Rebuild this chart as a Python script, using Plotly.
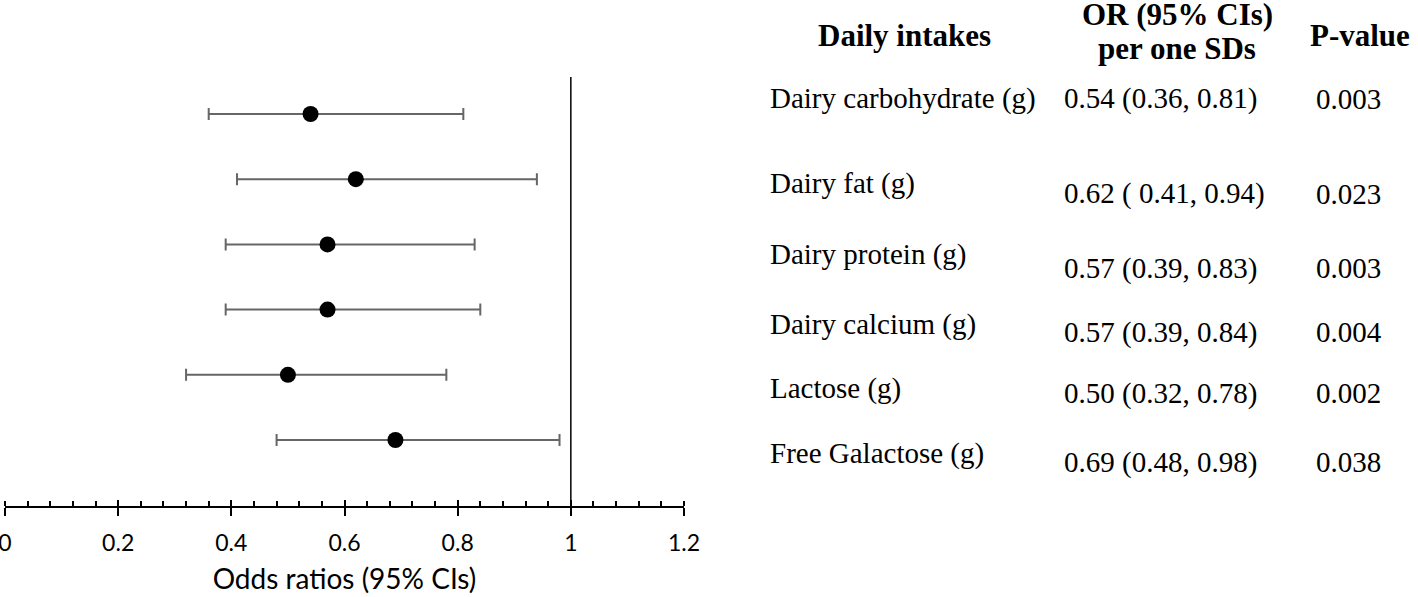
import plotly.graph_objects as go

# ---------------- data ----------------
intakes = ["Dairy carbohydrate (g)", "Dairy fat (g)", "Dairy protein (g)",
           "Dairy calcium (g)", "Lactose (g)", "Free Galactose (g)"]
odds = [0.54, 0.62, 0.57, 0.57, 0.50, 0.69]
ci_low = [0.36, 0.41, 0.39, 0.39, 0.32, 0.48]
ci_high = [0.81, 0.94, 0.83, 0.84, 0.78, 0.98]
or_text = ["0.54 (0.36, 0.81)", "0.62 ( 0.41, 0.94)", "0.57 (0.39, 0.83)",
           "0.57 (0.39, 0.84)", "0.50 (0.32, 0.78)", "0.69 (0.48, 0.98)"]
p_values = ["0.003", "0.023", "0.003", "0.004", "0.002", "0.038"]
header_lines = ["Daily intakes", "OR (95% CIs)", "per one SDs", "P-value"]
tick_vals = [0, 0.2, 0.4, 0.6, 0.8, 1.0, 1.2]
tick_text = ["0", "0.2", "0.4", "0.6", "0.8", "1", "1.2"]
ref_value = 1.0

# ---------------- layout constants (pixels) ----------------
W, H = 1418, 597
rows = list(range(len(intakes)))
row_px0, row_step = 114, 65.2
axis_px = 506
y_top = -row_px0 / row_step
y_bot = (axis_px - row_px0) / row_step
ref_top = (77 - row_px0) / row_step

def px(x):
    return x / W

def py(y):
    return 1 - y / H

fig = go.Figure()
fig.add_trace(go.Scatter(
    x=odds, y=rows, mode="markers",
    marker=dict(size=16, color="black"),
    error_x=dict(type="data", symmetric=False,
                 array=[h - o for h, o in zip(ci_high, odds)],
                 arrayminus=[o - l for o, l in zip(odds, ci_low)],
                 color="#666666", thickness=2, width=6),
    showlegend=False, hoverinfo="x",
))
# invisible trace on x2 so the overlay axis (upper half of major ticks) is drawn
fig.add_trace(go.Scatter(x=[ref_value], y=[y_bot], xaxis="x2", mode="markers",
                         marker=dict(opacity=0), showlegend=False, hoverinfo="skip"))

fig.add_shape(type="line", xref="x", yref="y", x0=ref_value, x1=ref_value,
              y0=ref_top, y1=y_bot, line=dict(color="black", width=1.5))

axis_font = dict(family="Lato", size=23, color="black")
dom = [px(5), px(684)]
fig.update_layout(
    width=W, height=H,
    margin=dict(l=0, r=0, t=0, b=0),
    paper_bgcolor="white", plot_bgcolor="white",
    xaxis=dict(domain=dom, range=[0, 1.2], tickvals=tick_vals, ticktext=tick_text,
               ticks="outside", ticklen=8, tickwidth=2, tickcolor="black",
               showline=True, linecolor="black", linewidth=2,
               showgrid=False, zeroline=False, tickfont=axis_font,
               ticklabeloverflow="allow", automargin=False, ticklabelstandoff=7,
               minor=dict(ticks="inside", ticklen=5, tickwidth=1.5, tickcolor="black",
                          dtick=0.04, showgrid=False),
               title=dict(text="Odds ratios (95% CIs)",
                          font=dict(family="Lato", size=28, color="black"),
                          standoff=15),
               anchor="y", fixedrange=True),
    xaxis2=dict(domain=dom, range=[0, 1.2], tickvals=tick_vals, overlaying="x",
                side="bottom", anchor="y", ticks="inside", ticklen=6, tickwidth=2,
                tickcolor="black", showticklabels=False, showgrid=False,
                zeroline=False, showline=False, automargin=False),
    yaxis=dict(domain=[1 - axis_px / H, 1], range=[y_bot, y_top], visible=False,
               fixedrange=True, automargin=False),
)

serif = "Liberation Serif"
body_size = 29
ann = []
# header lines: (x, y, anchor)
hdr_pos = [(904, 35, "center"), (1177, 15, "center"), (1177, 48, "center"), (1308, 35, "left")]
for t, (x, y, a) in zip(header_lines, hdr_pos):
    ann.append(dict(text="<b>" + t + "</b>",
                    x=px(x), y=py(y), xref="paper", yref="paper",
                    xanchor=a, yanchor="middle", showarrow=False,
                    font=dict(family=serif, size=31, color="black")))
label_y = [99, 183, 255, 324, 388, 453]
value_y = [99, 194, 268, 332, 393, 462]
for i in rows:
    ann.append(dict(text=intakes[i], x=px(768), y=py(label_y[i]), xref="paper", yref="paper",
                    xanchor="left", yanchor="middle", showarrow=False,
                    font=dict(family=serif, size=body_size, color="black")))
    ann.append(dict(text=or_text[i], x=px(1062), y=py(value_y[i]), xref="paper", yref="paper",
                    xanchor="left", yanchor="middle", showarrow=False,
                    font=dict(family=serif, size=body_size, color="black")))
    ann.append(dict(text=p_values[i], x=px(1314), y=py(value_y[i]), xref="paper", yref="paper",
                    xanchor="left", yanchor="middle", showarrow=False,
                    font=dict(family=serif, size=body_size, color="black")))
fig.update_layout(annotations=ann)

fig.write_html("out.html", config={"displayModeBar": False},
               post_script="document.body.style.margin='0';")
